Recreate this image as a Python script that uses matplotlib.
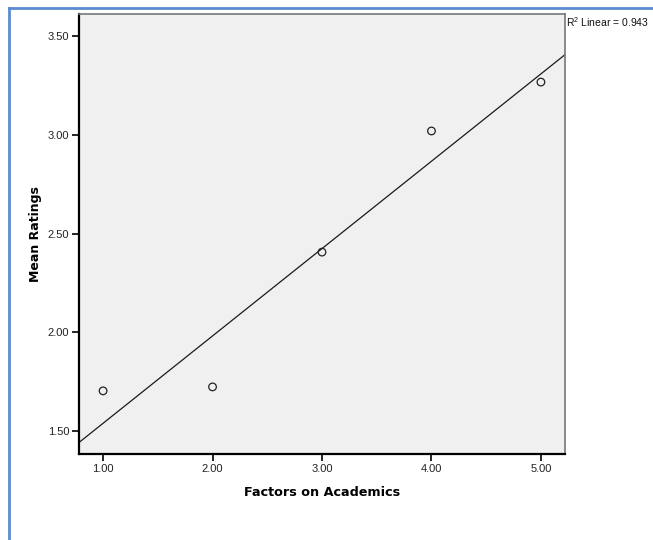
import numpy as np
import matplotlib
matplotlib.use("Agg")
import matplotlib.pyplot as plt
from matplotlib.lines import Line2D

# Data
factors = [1.0, 2.0, 3.0, 4.0, 5.0]
mean_ratings = [1.705, 1.725, 2.406, 3.018, 3.265]
x_ticks = [1.0, 2.0, 3.0, 4.0, 5.0]
y_ticks = [1.5, 2.0, 2.5, 3.0, 3.5]
r2_label = "R$^2$ Linear = 0.943"
x_label = "Factors on Academics"
y_label = "Mean Ratings"

W, H = 653, 540
fig = plt.figure(figsize=(W / 100, H / 100), dpi=100)
fig.patch.set_facecolor("white")

ax = fig.add_axes([79 / W, 1 - 454 / H, (565 - 79) / W, (454 - 14) / H])
ax.set_facecolor("#f0f0f0")
xlim = (0.78, 5.22)
ylim = (1.386, 3.609)
ax.set_xlim(*xlim)
ax.set_ylim(*ylim)

# Fit line
slope, intercept = np.polyfit(factors, mean_ratings, 1)
xs = np.array(xlim)
ax.plot(xs, slope * xs + intercept, color="#1a1a1a", lw=0.9, zorder=2, clip_on=True)

# Points
ax.scatter(factors, mean_ratings, s=30, facecolors="none", edgecolors="#222222",
           linewidths=0.9, zorder=3)

# Spines
for side in ["left", "bottom"]:
    ax.spines[side].set_color("black")
    ax.spines[side].set_linewidth(1.6)
for side in ["top", "right"]:
    ax.spines[side].set_color("#777777")
    ax.spines[side].set_linewidth(1.2)

ax.set_xticks(x_ticks)
ax.set_yticks(y_ticks)
ax.set_xticklabels([f"{v:.2f}" for v in x_ticks])
ax.set_yticklabels([f"{v:.2f}" for v in y_ticks])
ax.tick_params(axis="both", direction="out", length=5, width=1.2, color="black",
               labelsize=8, labelcolor="#222222", pad=2)
for lab in ax.get_xticklabels() + ax.get_yticklabels():
    lab.set_family("Liberation Sans")

ax.set_xlabel(x_label, fontsize=9.2, fontweight="bold", family="DejaVu Sans", labelpad=9)
ax.set_ylabel(y_label, fontsize=9, fontweight="bold", family="DejaVu Sans", labelpad=4.5)

plt.rcParams["mathtext.fontset"] = "custom"
plt.rcParams["mathtext.rm"] = "Liberation Sans"
fig.text(566 / W, 1 - 22 / H, r2_label, fontsize=7.5, family="Liberation Sans",
         ha="left", va="center", color="#111111")

# Blue frame lines
fig.add_artist(Line2D([9 / W, 1.0], [1 - 8 / H, 1 - 8 / H], color="#5b8bd0", lw=2,
                      transform=fig.transFigure))
fig.add_artist(Line2D([9 / W, 9 / W], [1 - 8 / H, 0.0], color="#5b8bd0", lw=2,
                      transform=fig.transFigure))

fig.savefig("out.png", dpi=100)
